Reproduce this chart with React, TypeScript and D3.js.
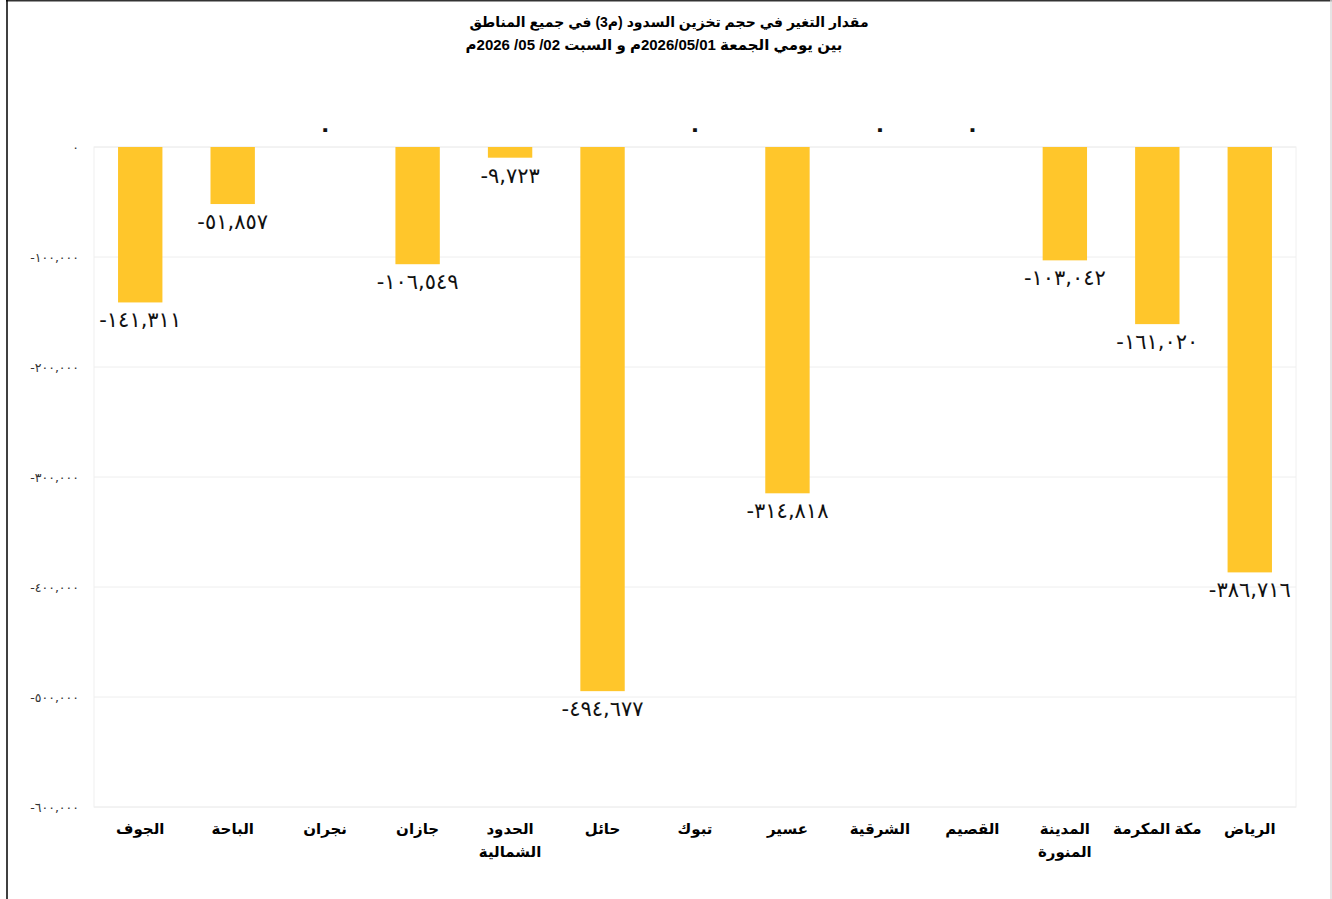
import React from "react";
import * as d3 from "d3";

const titleLines = [
  "مقدار التغير في حجم تخزين السدود (م3) في جميع المناطق",
  "بين يومي الجمعة 2026/05/01م و السبت 02/ 05/ 2026م",
];

const regions = [
  "الجوف",
  "الباحة",
  "نجران",
  "جازان",
  "الحدود الشمالية",
  "حائل",
  "تبوك",
  "عسير",
  "الشرقية",
  "القصيم",
  "المدينة المنورة",
  "مكة المكرمة",
  "الرياض",
];

const changes = [-141311, -51857, 0, -106549, -9723, -494677, 0, -314818, 0, 0, -103042, -161020, -386716];

const yTicks = [0, -100000, -200000, -300000, -400000, -500000, -600000];

const W = 1332;
const H = 899;
const margin = { top: 147, right: 36, bottom: 92, left: 94 };

const arabicDigits = "٠١٢٣٤٥٦٧٨٩";
const fmt = d3.format(",");
const toArabic = (v: number) => fmt(v).replace(/\d/g, (d) => arabicDigits[+d]).replace("−", "-");

// long names break into two lines like the original
const splitLabel = (name: string) => {
  const parts = name.split(" ");
  if (parts.length === 2 && (name.startsWith("الحدود") || name.startsWith("المدينة"))) return parts;
  return [name];
};

const font = "Arial, 'Liberation Sans', 'DejaVu Sans', sans-serif";

const App = () => {
  const x = d3
    .scaleBand()
    .domain(regions)
    .range([margin.left, W - margin.right])
    .paddingInner(0.52)
    .paddingOuter(0.26);

  const y = d3.scaleLinear().domain([-600000, 0]).range([H - margin.bottom, margin.top]);

  const plotLeft = margin.left;
  const plotRight = W - margin.right;

  return (
    <svg width={W} height={H} style={{ position: "absolute", left: 0, top: 0 }} fontFamily={font}>
      <rect x={0} y={0} width={W} height={H} fill="#fff" />
      {/* outer frame */}
      <line x1={6} x2={W} y1={0.5} y2={0.5} stroke="#333" strokeWidth={2} />
      <line x1={7} x2={7} y1={0} y2={H} stroke="#000" strokeWidth={1.5} />
      <line x1={W - 1} x2={W - 1} y1={0} y2={H} stroke="#ddd" strokeWidth={1.5} />

      {/* title */}
      {titleLines.map((t, i) => (
        <text
          key={i}
          x={W / 2 + (i === 0 ? 3 : -12)}
          y={27 + i * 23}
          textAnchor="middle"
          direction="rtl"
          fontSize={i === 0 ? 14 : 15}
          fontWeight="bold"
          fill="#000"
        >
          {t}
        </text>
      ))}

      {/* grid */}
      <rect
        x={plotLeft}
        y={margin.top}
        width={plotRight - plotLeft}
        height={H - margin.bottom - margin.top}
        fill="none"
        stroke="#f0f0f0"
      />
      {yTicks.map((t) => (
        <g key={t}>
          <line x1={plotLeft} x2={plotRight} y1={y(t)} y2={y(t)} stroke="#eeeeee" strokeWidth={1} />
          <text
            x={79}
            y={y(t)}
            textAnchor="end"
            dominantBaseline="central"
            fontSize={12.5}
            fill="#333"
            fontFamily="'DejaVu Sans', sans-serif"
          >
            {toArabic(t)}
          </text>
        </g>
      ))}

      {/* bars */}
      {regions.map((r, i) => {
        const v = changes[i];
        const y0 = y(0);
        const y1 = y(v);
        const cx = (x(r) as number) + x.bandwidth() / 2;
        return (
          <g key={r}>
            <rect x={x(r)} y={Math.min(y0, y1)} width={x.bandwidth()} height={Math.abs(y1 - y0)} fill="#FFC62B" />
            <text
              x={cx}
              y={v === 0 ? y0 - 19 : y1 + 18}
              textAnchor="middle"
              dominantBaseline="central"
              fontSize={v === 0 ? 22 : 21}
              fontWeight={v === 0 ? "bold" : "normal"}
              fill="#111"
              fontFamily="'DejaVu Sans', sans-serif"
            >
              {toArabic(v)}
            </text>
            {splitLabel(r).map((line, j) => (
              <text
                key={j}
                x={cx}
                y={828 + j * 23}
                textAnchor="middle"
                dominantBaseline="central"
                direction="rtl"
                fontSize={15}
                fontWeight="bold"
                fill="#000"
              >
                {line}
              </text>
            ))}
          </g>
        );
      })}
    </svg>
  );
};

export default App;
